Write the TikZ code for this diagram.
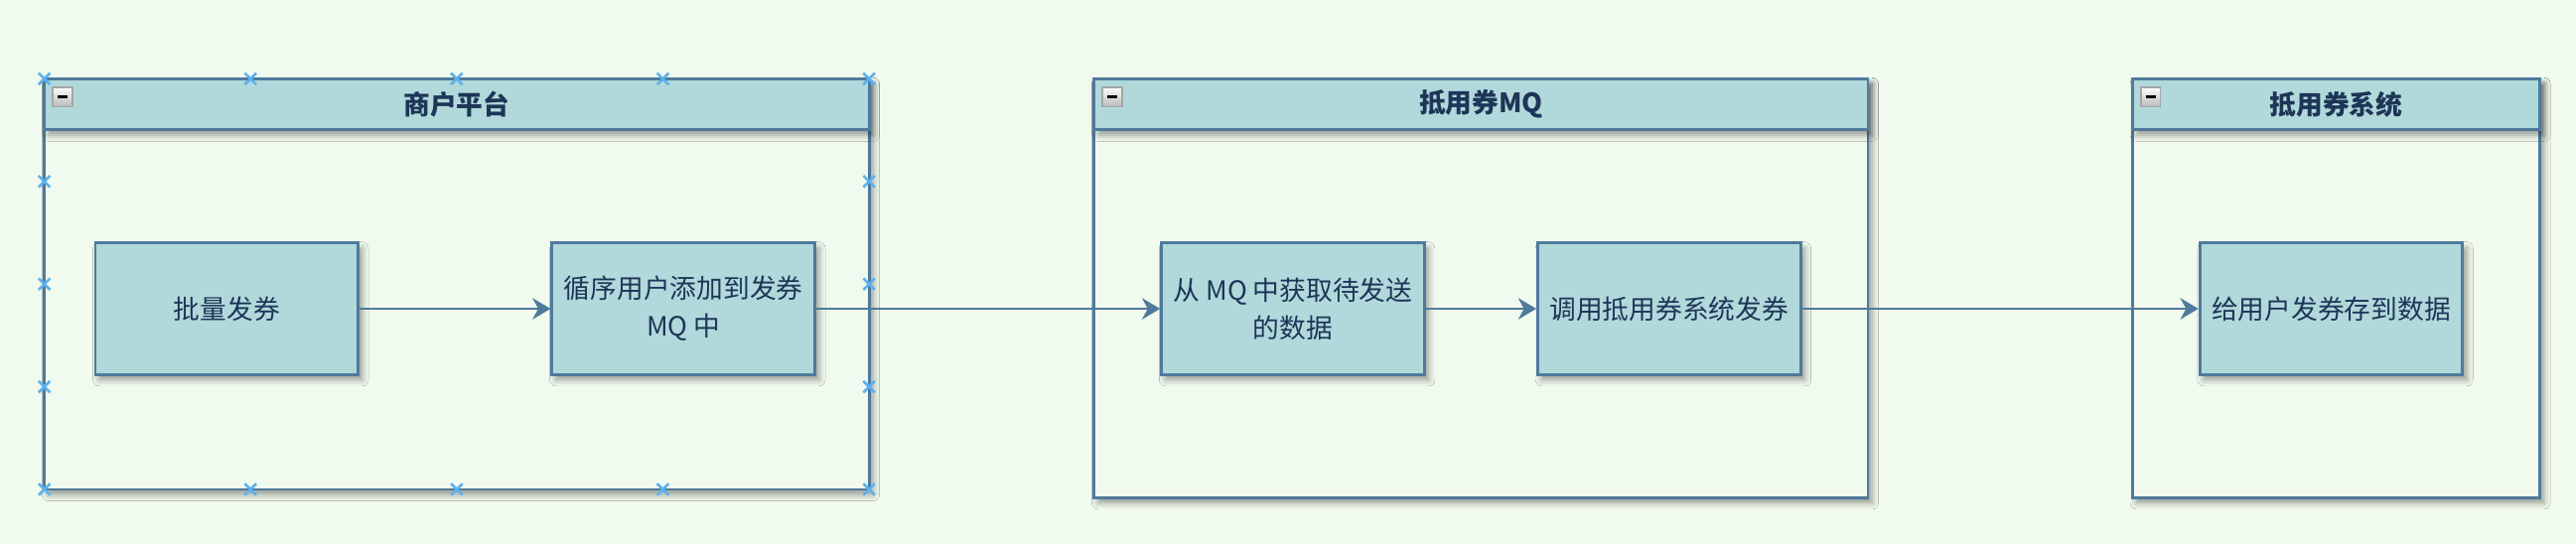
\documentclass[tikz,border=0pt]{standalone}
\usepackage{fontspec}
\setmainfont{Noto Sans CJK SC}
\usetikzlibrary{arrows.meta,positioning,shadows.blur}

\definecolor{pagebg}{HTML}{F1FAEE}
\definecolor{cardfill}{HTML}{B1D9DB}
\definecolor{cardline}{HTML}{4F7A9C}
\definecolor{cardtext}{HTML}{1D3557}
\definecolor{selblue}{HTML}{5CB1EE}

\tikzset{
	softshadow/.style={blur shadow={shadow xshift=1.4pt, shadow yshift=-1.8pt, shadow blur radius=2.2pt, shadow opacity=40}},
	card/.style={draw=cardline, fill=cardfill, line width=1pt, minimum width=3.2cm, minimum height=1.6cm, inner sep=2pt, align=center, text=cardtext, font=\fontsize{9.2}{13}\selectfont, softshadow},
	flow/.style={draw=cardline, line width=0.9pt, -{Stealth[length=2.2mm, width=2.6mm, inset=0.7mm]}},
	handle/.style={draw=selblue, line width=0.9pt},
}

% swimlane: (name)(left,top,right,bottom){title}
\def\lane(#1)(#2,#3,#4,#5)#6{
	\path[fill=pagebg, draw=cardline, line width=1pt, softshadow] (#2,#3) rectangle (#4,#5);
	\path[fill=cardfill, draw=cardline, line width=1pt, softshadow] (#2,#3) rectangle (#4,#3+31);
	\node[font=\fontsize{9.2}{11}\selectfont\bfseries, text=cardtext] (#1) at ({(#2+#4)/2},#3+15.5) {#6};
	\draw[gray!70, top color=white, bottom color=gray!55, line width=0.6pt] (#2+5,#3+5) rectangle (#2+17,#3+17);
	\draw[black, line width=1pt] (#2+8,#3+11) -- (#2+14,#3+11);
}

\begin{document}
\begin{tikzpicture}[x=0.02cm, y=-0.02cm]
		%%%%% START %%%%%
		
		\useasboundingbox (0,0) rectangle (1568,331.25);
		\fill[pagebg] (0,0) rectangle (1568,331.25);
		
		\lane(merchant)(27,48,529,298){商户平台}
		\lane(couponmq)(666,48,1137,303){抵用券MQ}
		\lane(couponsys)(1298,48,1546,303){抵用券系统}
		
		% selection handles
		\foreach \hx in {27,152.5,278,403.5,529}
			\foreach \hy in {48,298}
				\draw[handle] (\hx-3.5,\hy-3.5) -- (\hx+3.5,\hy+3.5) (\hx-3.5,\hy+3.5) -- (\hx+3.5,\hy-3.5);
		\foreach \hy in {110.5,173,235.5}
			\foreach \hx in {27,529}
				\draw[handle] (\hx-3.5,\hy-3.5) -- (\hx+3.5,\hy+3.5) (\hx-3.5,\hy+3.5) -- (\hx+3.5,\hy-3.5);
		
		\node[card] (batch) at (138,188) {批量发券};
		\node[card] (enqueue) at (416,188) {循序用户添加到发券\\MQ 中};
		\node[card] (fetch) at (787,188) {从 MQ 中获取待发送\\的数据};
		\node[card] (invoke) at (1016,188) {调用抵用券系统发券};
		\node[card] (store) at (1419,188) {给用户发券存到数据};
		
		\draw[flow] (batch) -- (enqueue);
		\draw[flow] (enqueue) -- (fetch);
		\draw[flow] (fetch) -- (invoke);
		\draw[flow] (invoke) -- (store);
		
		%%%%% END %%%%%
\end{tikzpicture}
\end{document}
